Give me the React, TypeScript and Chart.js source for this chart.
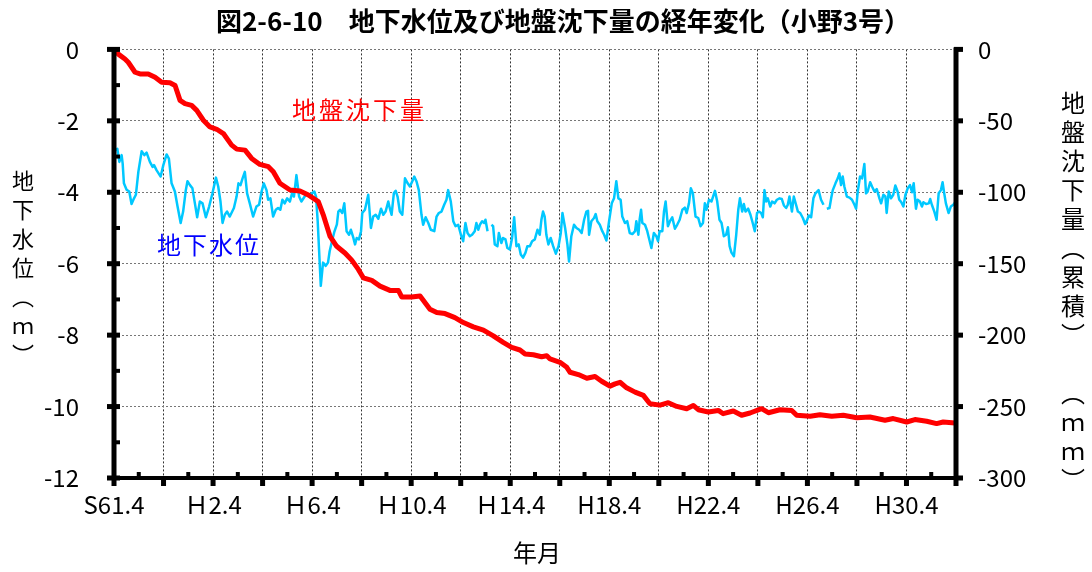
import React, { useEffect, useRef } from "react";
import { Chart, registerables } from "chart.js";

Chart.register(...registerables);

// ---- DATA ----
const TITLE = "図2-6-10　地下水位及び地盤沈下量の経年変化（小野3号）";
const X_TITLE = "年月";
const LEFT_TITLE = ["地", "下", "水", "位", "︵", "ｍ", "︶"];
const RIGHT_TITLE = ["地", "盤", "沈", "下", "量", "︵", "累", "積", "︶", "　", "︵", "ｍ", "ｍ", "︶"];
const GW_LABEL = "地下水位";
const SUB_LABEL = "地盤沈下量";

// x axis: months elapsed since S61.4 (April 1986); labels every 48 months
const xTickLabels = ["S61.4", "Ｈ2.4", "Ｈ6.4", "Ｈ10.4", "Ｈ14.4", "H18.4", "H22.4", "H26.4", "H30.4"];
const X_MAX_MONTHS = 408;

// groundwater level (m), left axis
const gwMonths = [
  0.5, 1.6, 2.6, 3.7, 4.2, 4.8, 6.1, 7.4, 8.5, 9.7, 10.6, 11.8, 13.4, 14.7, 15.8, 17.4, 18.7, 19.4, 20.6, 22.6,
  23.9, 25.5, 26.6, 27.9, 29.5, 30.8, 32.3, 33.5, 34.8, 35.6, 36.8, 38.0, 39.2, 40.3, 41.6, 42.9, 44.5, 46.1, 47.7, 49.4,
  50.5, 51.6, 52.6, 53.7, 54.8, 56.1, 58.1, 59.4, 60.3, 61.3, 62.3, 63.4, 64.5, 65.8, 67.4, 69.0, 70.3, 71.5, 72.6, 73.9,
  74.7, 75.8, 77.1, 78.4, 79.5, 80.6, 81.6, 82.7, 83.9, 85.2, 86.5, 87.2, 88.4, 89.7, 90.8, 92.4, 93.5, 94.8, 96.0, 97.1,
  97.9, 98.7, 100.2, 101.3, 102.6, 103.7, 104.5, 105.5, 106.8, 108.0, 108.7, 109.5, 110.6, 111.6, 112.7, 113.9, 114.8, 116.0, 116.8, 117.6,
  118.7, 119.7, 120.3, 121.6, 123.2, 124.5, 125.6, 126.8, 128.1, 129.4, 130.5, 131.6, 132.9, 133.7, 134.5, 135.6, 136.5, 137.4, 138.5, 139.7,
  141.0, 142.3, 143.4, 144.5, 145.5, 146.6, 147.7, 149.0, 149.8, 151.0, 152.3, 153.5, 155.2, 156.3, 157.4, 158.7, 160.0, 161.1, 161.9, 163.2,
  164.4, 165.5, 166.8, 168.1, 169.2, 170.3, 171.3, 172.4, 173.5, 174.8, 175.6, 176.5, 177.3, 178.4, 179.4, 180.0, 181.0, 181.9, 182.9, 183.7,
  184.5, 185.8, 186.5, 187.7, 188.5, 189.7, 190.6, 191.8, 192.9, 193.9, 195.0, 196.1, 197.1, 198.2, 199.4, 200.3, 201.5, 202.6, 203.9, 205.2,
  206.3, 207.1, 207.9, 208.7, 209.5, 210.5, 211.6, 212.8, 214.1, 215.4, 216.5, 217.3, 218.6, 219.7, 220.5, 221.6, 222.9, 224.1, 225.4, 226.6,
  227.8, 228.9, 229.7, 230.2, 231.3, 232.6, 233.4, 234.2, 235.4, 236.6, 237.5, 238.6, 239.9, 241.2, 242.3, 243.4, 244.4, 245.5, 246.3, 247.6,
  248.7, 249.9, 251.2, 252.5, 253.1, 254.1, 254.7, 255.4, 256.0, 257.3, 258.4, 259.2, 260.4, 261.6, 262.8, 263.6, 264.4, 265.7, 266.5, 267.3,
  268.4, 269.4, 270.5, 271.8, 272.9, 274.1, 275.4, 276.6, 277.5, 278.6, 279.5, 280.5, 281.8, 283.1, 284.2, 285.4, 286.3, 287.1, 288.3, 289.5,
  291.2, 292.3, 293.4, 294.4, 295.5, 296.6, 297.5, 298.3, 299.2, 300.4, 301.5, 302.5, 303.3, 304.4, 305.2, 306.0, 307.3, 308.4, 309.5, 310.5,
  311.6, 312.5, 313.6, 314.4, 315.2, 316.0, 316.8, 318.0, 318.9, 320.1, 321.2, 322.5, 323.6, 324.6, 325.7, 326.5, 327.3, 328.5, 329.4, 330.5,
  331.4, 332.5, 333.8, 334.9, 335.7, 336.7, 337.8, 338.9, 339.9, 341.4, 342.6, 343.8, 344.6, 345.4, 346.7, 347.5, 348.3, 349.6, 350.7, 351.5,
  352.3, 353.1, 353.9, 355.1, 356.4, 357.6, 358.8, 359.6, 360.4, 361.5, 362.5, 363.6, 364.4, 365.2, 366.4, 367.3, 368.5, 369.6, 370.9, 371.7,
  372.8, 373.8, 374.4, 375.4, 376.5, 377.6, 378.6, 379.7, 380.5, 381.3, 382.5, 383.5, 384.6, 385.7, 386.7, 387.5, 388.6, 389.4, 390.5, 391.5,
  392.2, 393.5, 394.8, 395.5, 396.3, 397.5, 398.6, 399.6, 400.7, 401.5, 402.3, 403.1, 404.4, 405.5, 406.7, 407.6,
];
const gwLevels: (number | null)[] = [
  -2.82, -2.78, -3.15, -2.96, -3.2, -3.75, -3.93, -3.98, -4.33, -4.17, -4.07, -3.43, -2.85, -2.96, -2.89, -3.15, -3.29, -3.24, -3.38, -3.56,
  -3.24, -2.94, -3.06, -3.75, -3.98, -4.4, -4.86, -4.54, -3.94, -3.69, -3.8, -3.89, -4.31, -4.7, -4.26, -4.31, -4.7, -4.4, -4.03, -3.59,
  -3.84, -4.26, -4.86, -4.63, -4.54, -4.68, -4.44, -4.12, -3.75, -3.8, -3.61, -3.43, -4.03, -4.31, -4.68, -4.4, -4.35, -3.98, -3.75, -3.94,
  -4.21, -4.17, -4.68, -4.49, -4.44, -4.49, -4.21, -4.31, -4.17, -4.26, -3.98, -4.12, -3.52, -4.12, -4.26, -4.12, -4.03, -4.07, -4.03, -3.98,
  -4.12, -4.81, -6.62, -5.97, -6.06, -5.97, -5.65, -5.4, -5.1, -4.9, -4.54, -4.49, -4.58, -4.31, -5.09, -5.19, -5.05, -5.28, -5.46, -5.28,
  -5.32, -5.09, -4.58, -4.49, -4.07, -5.0, -4.68, -4.63, -4.74, -4.46, -4.63, -4.54, -4.26, -4.46, -4.63, -4.03, -3.96, -4.12, -4.54, -4.63,
  -3.61, -3.75, -3.84, -3.7, -3.56, -3.7, -3.94, -4.63, -4.91, -4.7, -4.86, -5.05, -5.09, -4.68, -4.58, -4.54, -4.35, -4.21, -3.94, -4.26,
  -4.81, -4.95, -4.91, -5.19, -5.37, -4.86, -5.14, -5.23, -5.19, -5.09, -4.86, -5.05, -4.91, -4.81, -4.86, -4.77, -5.09, null, -4.91, -4.95,
  -5.46, -5.51, -5.14, -5.42, -5.28, -5.32, -5.56, -5.6, -5.28, -4.7, -5.51, -5.46, -5.74, -5.83, -5.69, -5.51, -5.51, -5.37, -5.32, -5.05,
  -5.19, -4.77, -4.54, -4.68, -5.19, -5.46, -5.28, -5.51, -5.72, -5.51, -5.14, -4.58, -5.0, -5.46, -5.94, -5.23, -4.91, -5.0, -5.05, -5.14,
  -4.77, -4.54, -4.52, -5.19, -4.81, -4.72, -4.61, -4.81, -4.91, -5.09, -5.19, -5.35, -4.81, -4.31, -4.17, -3.69, -4.17, -4.21, -4.68, -4.86,
  -4.81, -5.14, -5.17, -5.09, -4.81, -5.19, -4.77, -4.49, -4.86, -4.91, -5.09, -5.28, -5.56, -5.14, -5.23, -5.37, -5.09, -5.09, -4.54, -4.26,
  -4.95, -4.81, -4.7, -5.02, -4.91, -4.77, -4.49, -4.43, -4.58, -4.31, -3.89, -4.03, -4.68, -4.72, -4.95, -4.86, -4.31, -4.49, -4.21, -4.26,
  -3.96, -4.26, -4.77, -4.86, -5.23, -5.19, -4.98, -5.51, -5.69, -5.79, -5.19, -4.49, -4.17, -4.54, -4.33, -4.54, -4.46, -4.63, -4.86, -5.09,
  -4.58, -4.54, -4.58, -4.7, -3.94, -4.26, -4.17, -4.4, -4.26, -4.31, -4.21, -4.17, -4.19, -4.37, -4.44, -4.35, -4.12, -4.54, -4.12, -4.35,
  -4.54, -4.58, -4.72, -4.89, -4.8, -4.65, -4.7, -4.17, -4.03, -3.94, -4.21, -4.35, null, -4.46, -4.44, -4.17, -3.94, -3.75, -3.61, -3.47,
  -3.8, -3.56, -3.84, -4.12, -4.15, -4.21, -4.35, -4.46, -3.98, -3.56, -3.61, -3.21, -4.03, -3.98, -3.72, -3.84, -3.98, -3.91, -4.17, -4.31,
  -4.07, -4.12, -4.58, -3.98, -4.17, -4.07, -3.81, -3.98, -4.21, -4.26, -4.4, -4.07, -3.89, -3.8, -4.0, -3.75, -4.46, -4.21, -4.26, -4.4,
  -4.28, -4.33, -4.31, -4.19, -4.35, -4.54, -4.77, -4.03, -3.94, -3.72, -4.03, -4.31, -4.58, -4.4, -4.35, -4.28,
];

// cumulative land subsidence (mm), right axis
const subMonths = [
  0, 2.1, 5.3, 6.9, 10.2, 12.6, 16.6, 19.9, 23.1, 27.1, 29.6, 32, 34.4, 37.6, 40.1, 43.3, 46.5, 49.8, 53, 57,
  59.5, 63.5, 66.7, 70.7, 74.8, 77.2, 80.4, 85.3, 90.1, 94.2, 99, 101.4, 104.7, 107.9, 111.9, 115.2, 118.4, 120.8, 124.9, 128.9,
  133.7, 137.8, 139.4, 144.2, 148.3, 153.1, 156.4, 160.4, 165.2, 169.3, 174.1, 179, 183.8, 188.6, 192.7, 196.7, 199.2, 203.2, 207.2, 209.7,
  211.3, 216.1, 219.4, 221, 225, 229.1, 233.1, 236.3, 240.3, 242.8, 245.2, 248.4, 252.5, 256.5, 259.7, 264.6, 268.6, 272.7, 277.5, 280.7,
  283.1, 288, 292.8, 295.2, 300.1, 304.1, 308.2, 313.8, 317.1, 322.7, 328.4, 330.8, 337.3, 342.1, 347.8, 353.4, 359.9, 366.3, 373.6, 377.6,
  384.1, 388.1, 393.8, 398.6, 401.8, 407.5,
];
const subAmounts = [
  -0.9, -3.3, -6.7, -9, -16, -17.2, -17.2, -19.5, -23, -23.4, -25.3, -35.7, -38, -39.2, -42.7, -49.6, -54.3, -55.9, -58.9, -67,
  -69.8, -70.5, -76.3, -80.5, -82.1, -85.6, -93.7, -98.4, -99.1, -101.9, -106.5, -115.8, -130.9, -137.8, -142.5, -147.5, -154, -159.9, -161.7, -165.7,
  -168.7, -168.7, -173.3, -173.3, -172.6, -181.9, -184.2, -184.9, -187.7, -191.2, -194.2, -196.5, -200.5, -205.1, -208.6, -210.4, -213.2, -213.7, -215.1, -214.4,
  -216.7, -219, -222.5, -226, -227.6, -230.2, -229, -232.3, -235.7, -234.1, -233, -236.9, -239.9, -242.2, -248, -249, -247.3, -249.9, -251.5, -249.2,
  -252.2, -253.8, -252.7, -255, -253.1, -256.1, -254.5, -251.5, -254.3, -252.2, -252.7, -256.1, -256.8, -255.7, -256.8, -256.1, -257.8, -257.3, -259.6, -258.4,
  -260.8, -259.1, -260.3, -261.9, -260.8, -261.5,
];

const FONT = '"Noto Sans CJK JP", "Noto Sans", sans-serif';

const decorPlugin = {
  id: "decor",
  afterDraw(chart: any) {
    const { ctx, chartArea, scales } = chart;
    const { left, right, top, bottom } = chartArea;
    const y = scales.y;
    const y1 = scales.y1;
    const x = scales.x;
    ctx.save();
    ctx.fillStyle = "#000";
    // axis lines
    ctx.fillRect(left - 2.5, top - 2, 5, bottom - top + 4);
    ctx.fillRect(right - 2.5, top - 2, 5, bottom - top + 4);
    ctx.fillRect(left - 2.5, bottom - 2, right - left + 5, 4);
    // left axis tick marks
    for (let v = 0; v >= -12; v -= 1) {
      const py = y.getPixelForValue(v);
      if (v % 2 === 0) ctx.fillRect(left - 7, py - 2.5, 13, 5);
      else ctx.fillRect(left, py - 2, 6, 4);
    }
    // right axis tick marks
    for (let v = 0; v >= -300; v -= 50) {
      const py = y1.getPixelForValue(v);
      ctx.fillRect(right - 2, py - 2.5, 9, 5);
    }
    // bottom axis tick marks
    for (let m = 0; m <= X_MAX_MONTHS; m += 12) {
      const px = x.getPixelForValue(m);
      if (m % 24 === 0) ctx.fillRect(px - 2.5, bottom, 5, 8);
      else ctx.fillRect(px - 2, bottom - 6, 4, 6);
    }

    // titles
    ctx.textBaseline = "middle";
    ctx.textAlign = "center";
    ctx.font = `bold 26px ${FONT}`;
    ctx.fillText(TITLE, 563, 21);
    ctx.font = `24px ${FONT}`;
    ctx.fillText(X_TITLE, 537, 553);

    ctx.font = `22px ${FONT}`;
    LEFT_TITLE.forEach((ch, i) => ctx.fillText(ch, 23, 181 + i * 29));
    ctx.font = `24px ${FONT}`;
    RIGHT_TITLE.forEach((ch, i) => ctx.fillText(ch, 1073, 103 + i * 29));

    // in-chart labels
    ctx.textAlign = "left";
    ctx.font = `24px ${FONT}`;
    (ctx as any).letterSpacing = "3px";
    ctx.fillStyle = "#FF0000";
    ctx.fillText(SUB_LABEL, 292, 110);
    (ctx as any).letterSpacing = "2px";
    ctx.fillStyle = "#0000FF";
    ctx.fillText(GW_LABEL, 157, 245);
    (ctx as any).letterSpacing = "0px";
    ctx.restore();
  },
};

export default function App() {
  const canvasRef = useRef<HTMLCanvasElement | null>(null);

  useEffect(() => {
    const canvas = canvasRef.current;
    if (!canvas) return;
    const gwData = gwMonths.map((m, i) => ({ x: m, y: gwLevels[i] }));
    const subData = subMonths.map((m, i) => ({ x: m, y: subAmounts[i] }));

    const chart = new Chart(canvas, {
      type: "line",
      data: {
        datasets: [
          {
            label: SUB_LABEL,
            data: subData,
            yAxisID: "y1",
            borderColor: "#FF0000",
            backgroundColor: "#FF0000",
            borderWidth: 5,
            pointRadius: 0,
            tension: 0,
            borderJoinStyle: "round",
            borderCapStyle: "round",
          },
          {
            label: GW_LABEL,
            data: gwData,
            yAxisID: "y",
            borderColor: "#00C8FF",
            backgroundColor: "#00C8FF",
            borderWidth: 2.5,
            pointRadius: 0,
            tension: 0,
            spanGaps: false,
            borderJoinStyle: "round",
          },
        ],
      } as any,
      options: {
        animation: false,
        responsive: false,
        maintainAspectRatio: false,
        devicePixelRatio: 1,
        layout: { padding: { top: 47, left: 0, right: 0, bottom: 0 } },
        plugins: {
          legend: { display: false },
          title: { display: false },
          tooltip: { enabled: false },
        },
        scales: {
          x: {
            type: "linear",
            min: 0,
            max: X_MAX_MONTHS,
            afterFit: (s: any) => {
              s.height = 94;
            },
            ticks: {
              stepSize: 24,
              autoSkip: false,
              maxRotation: 0,
              minRotation: 0,
              padding: 12,
              color: "#000",
              font: { family: FONT, size: 24 },
              callback: (v: any) => (Number(v) % 48 === 0 ? xTickLabels[Number(v) / 48] : ""),
            },
            grid: { color: "#333", lineWidth: 1, drawTicks: false },
            border: { display: false, dash: [2, 2] },
          },
          y: {
            type: "linear",
            position: "left",
            min: -12,
            max: 0,
            afterFit: (s: any) => {
              s.width = 114;
            },
            ticks: {
              stepSize: 2,
              padding: 35,
              color: "#000",
              font: { family: FONT, size: 24 },
            },
            grid: { color: "#777", lineWidth: 1, drawTicks: false },
            border: { display: false, dash: [2, 2] },
          },
          y1: {
            type: "linear",
            position: "right",
            min: -300,
            max: 0,
            afterFit: (s: any) => {
              s.width = 136;
            },
            ticks: {
              stepSize: 50,
              padding: 22,
              color: "#000",
              font: { family: FONT, size: 24 },
            },
            grid: { drawOnChartArea: false, drawTicks: false },
            border: { display: false },
          },
        },
      } as any,
      plugins: [decorPlugin],
    });
    return () => chart.destroy();
  }, []);

  return (
    <div style={{ position: "absolute", left: 0, top: 0, width: 1092, height: 572, background: "#fff" }}>
      <canvas ref={canvasRef} width={1092} height={572} style={{ display: "block" }} />
    </div>
  );
}
